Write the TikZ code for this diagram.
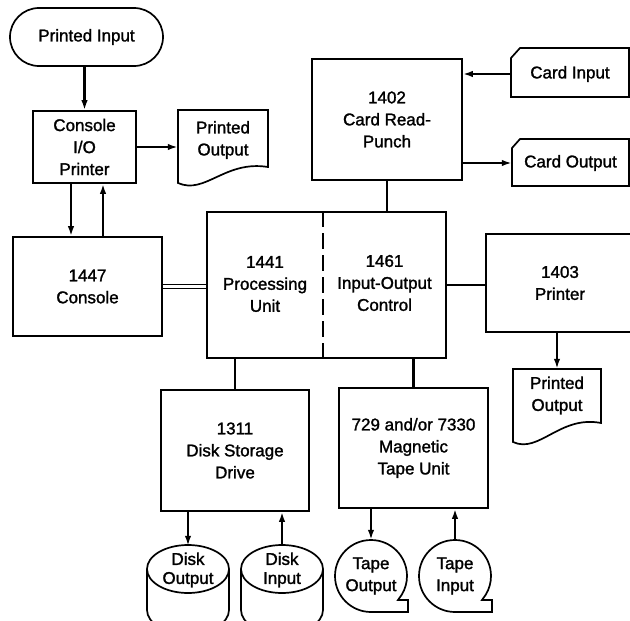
\documentclass[tikz,border=0pt]{standalone}
\usepackage{fontspec}
\setmainfont{Liberation Sans}[BoldFont={Liberation Sans},BoldFeatures={FakeBold=1.5}]
\usetikzlibrary{arrows.meta}
\begin{document}
\begin{tikzpicture}[x=1pt,y=-1pt,
  box/.style={draw,line width=1.7pt,inner sep=0pt,align=center},
  txt/.style={inner sep=0pt,align=center},
  disktxt/.style={txt,font=\fontsize{17}{19}\selectfont\bfseries},
  outl/.style={line width=1.7pt,line join=miter},
  arr/.style={line width=2.3pt,-{Latex[length=10pt,width=6.5pt]}},
  conn/.style={line width=2.1pt},
  every node/.append style={font=\fontsize{17}{22}\selectfont\bfseries}]
\useasboundingbox (0,0) rectangle (630,621);
\clip (0,0) rectangle (630,621);

% --- top left
\node[box,rounded corners=29pt,minimum width=153pt,minimum height=58pt] (pin) at (86.5,37) {Printed Input};
\node[box,minimum width=103pt,minimum height=72pt] (cio) at (84.5,147) {Console\\I/O\\Printer};
\node[txt,minimum width=90pt] (pout1) at (223,140) {Printed\\Output};
\draw[outl] (178,110) -- (268,110) -- (268,167) .. controls (225,160) and (205,195) .. (178,183) -- cycle;
\node[box,minimum width=149pt,minimum height=99pt] (con) at (87.5,286.5) {1447\\Console};

% --- card reader
\node[box,minimum width=150pt,minimum height=121pt] (crp) at (387,119.5) {1402\\Card Read-\\Punch};
\node[txt,minimum width=118pt] (cin) at (570,74) {Card Input};
\draw[outl] (511,58) -- (520,48) -- (629,48) -- (629,97) -- (511,97) -- cycle;
\node[txt,minimum width=117pt] (cout) at (570.5,163) {Card Output};
\draw[outl] (512,148) -- (520,139) -- (629,139) -- (629,186) -- (512,186) -- cycle;

% --- processing unit
\node[box,minimum width=239pt,minimum height=146pt] (pu) at (326.5,285) {};
\node[txt] (t1441) at (265,284) {1441\\Processing\\Unit};
\node[txt] (t1461) at (384.5,283) {1461\\Input-Output\\Control};
\draw[line width=1.4pt,dash pattern=on 16pt off 6pt] ([xshift=-3.5pt]pu.north) -- ([xshift=-3.5pt]pu.south);

% --- printer
\node[box,minimum width=148pt,minimum height=98pt] (prt) at (560,283) {1403\\Printer};
\node[txt,minimum width=88pt,minimum height=53pt] (pout2) at (557,395.5) {Printed\\Output};
\draw[outl] (513,369) -- (601,369) -- (601,423) .. controls (560,415) and (539,454) .. (513,442) -- cycle;

% --- lower units
\node[box,minimum width=148pt,minimum height=121pt] (dsd) at (235,450.5) {1311\\Disk Storage\\Drive};
\node[box,minimum width=149pt,minimum height=120pt] (mtu) at (413.5,448) {729 and/or 7330\\Magnetic\\Tape Unit};

% --- disks
\node[disktxt,minimum width=82pt,minimum height=48pt] (dout) at (188,570) {Disk\\Output};
\draw[outl] (188,569) ellipse [x radius=41pt,y radius=24pt];
\draw[outl] (147,569) -- (147,610) arc[start angle=180,end angle=360,x radius=41pt,y radius=24pt] -- (229,569);
\node[disktxt,minimum width=82pt,minimum height=48pt] (din) at (282,570) {Disk\\Input};
\draw[outl] (282,569) ellipse [x radius=41pt,y radius=24pt];
\draw[outl] (241,569) -- (241,610) arc[start angle=180,end angle=360,x radius=41pt,y radius=24pt] -- (323,569);

% --- tapes
\node[txt,circle,minimum size=72pt] (tout) at (371,576) {Tape\\Output};
\draw[outl] (371,612) arc[start angle=-90,end angle=-391,radius=36pt] -- (398,600) -- (408,600) -- (408,612) -- cycle;
\node[txt,circle,minimum size=72pt] (tin) at (455,576) {Tape\\Input};
\draw[outl] (455,612) arc[start angle=-90,end angle=-391,radius=36pt] -- (482,600) -- (492,600) -- (492,612) -- cycle;

% --- connectors
\draw[arr] (cio.north |- pin.south) -- (cio.north);
\draw[arr] ([xshift=-13.5pt]cio.south) -- ([xshift=-13.5pt]cio.south |- con.north);
\draw[arr] ([xshift=18.5pt]cio.south |- con.north) -- ([xshift=18.5pt]cio.south);
\draw[arr] (cio.east) -- (cio.east -| pout1.west);
\draw[double,double distance=2.2pt,line width=1pt] (con.east) -- (con.east -| pu.west);
\draw[conn] (crp.south) -- (crp.south |- pu.north);
\draw[arr] (cin.west) -- (cin.west -| crp.east);
\draw[arr] (crp.east |- cout.west) -- (cout.west);
\draw[conn] (pu.east) -- (pu.east -| prt.west);
\draw[arr] (pout2.north |- prt.south) -- (pout2.north);
\draw[conn] (dsd.north |- pu.south) -- (dsd.north);
\draw[conn] (mtu.north |- pu.south) -- (mtu.north);
\draw[arr] (dout.north |- dsd.south) -- (dout.north);
\draw[arr] (din.north) -- (din.north |- dsd.south);
\draw[arr] (tout.north |- mtu.south) -- (tout.north);
\draw[arr] (tin.north) -- (tin.north |- mtu.south);
\end{tikzpicture}
\end{document}
